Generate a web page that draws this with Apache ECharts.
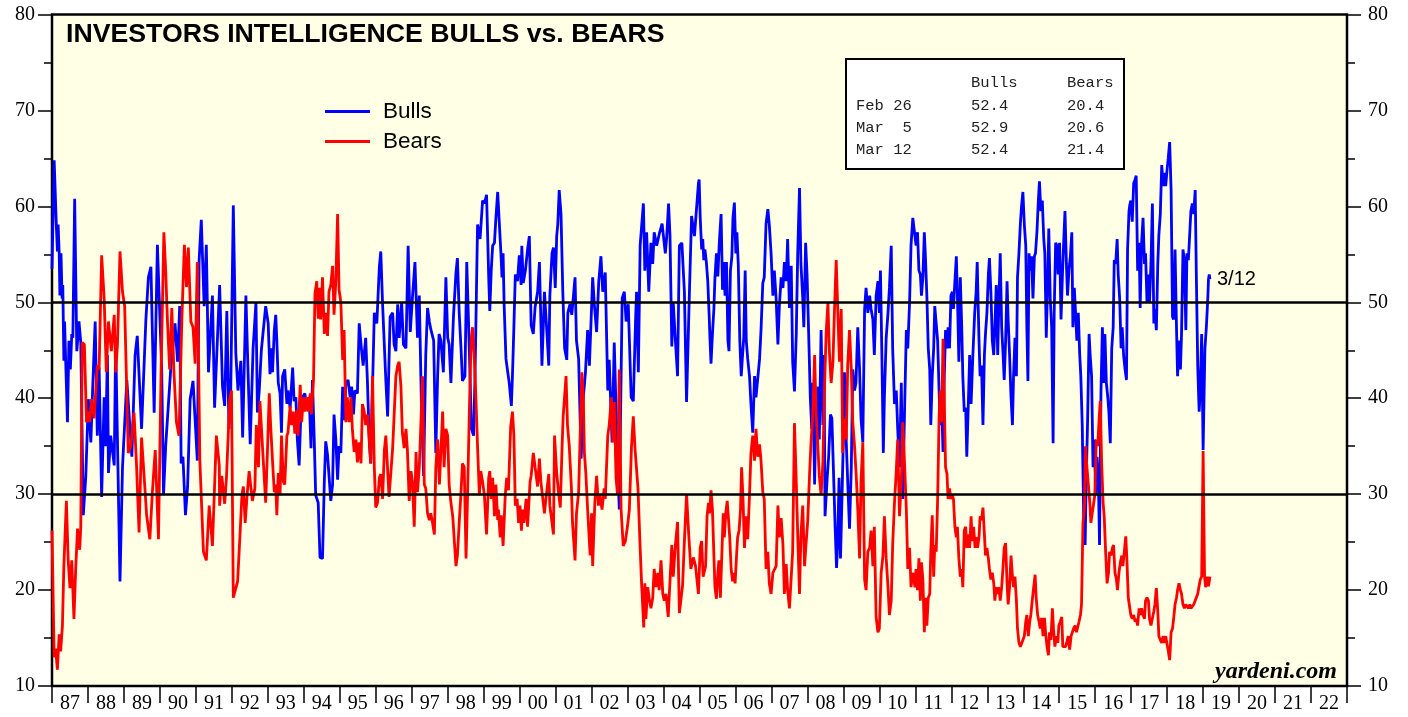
<!DOCTYPE html>
<html>
<head>
<meta charset="utf-8">
<script src="https://cdn.jsdelivr.net/npm/echarts@6/dist/echarts.min.js"></script>
<style>
html,body{margin:0;padding:0;background:#fff;}
#chart{width:1408px;height:717px;}
</style>
</head>
<body>
<div id="chart"></div>
<script>
// ---- tick labels ----
const yearLabels = ['87','88','89','90','91','92','93','94','95','96','97','98','99','00','01','02','03','04','05','06','07','08','09','10','11','12','13','14','15','16','17','18','19','20','21','22'];

// ---- table ----
const tableDates = ['Feb 26', 'Mar  5', 'Mar 12'];
const tableBulls = ['52.4', '52.9', '52.4'];
const tableBears = ['20.4', '20.6', '21.4'];

// ---- series: [decimal year, percent] ----
const bulls = [
[1987.00,53.5],[1987.06,64.8],[1987.12,58.1],[1987.15,55.3],[1987.17,58.1],[1987.20,55.1],[1987.22,50.7],[1987.25,55.1],[1987.28,50.4],[1987.30,51.8],[1987.33,43.9],[1987.35,48.0],[1987.38,43.9],[1987.43,37.5],[1987.47,46.0],[1987.51,43.0],[1987.55,46.7],[1987.58,46.3],[1987.63,60.8],[1987.69,44.9],[1987.75,48.0],[1987.80,45.8],[1987.87,27.8],[1987.94,31.9],[1988.01,39.9],[1988.08,35.4],[1988.12,39.9],[1988.20,48.0],[1988.26,36.1],[1988.31,43.2],[1988.38,29.7],[1988.45,40.1],[1988.49,35.0],[1988.54,44.5],[1988.57,32.2],[1988.63,36.1],[1988.73,33.0],[1988.77,46.0],[1988.89,20.9],[1988.96,32.8],[1989.08,41.9],[1989.22,33.9],[1989.31,44.5],[1989.37,46.5],[1989.49,36.8],[1989.61,48.2],[1989.68,52.6],[1989.75,53.7],[1989.84,38.5],[1989.93,56.0],[1990.05,43.0],[1990.10,29.9],[1990.16,35.0],[1990.30,43.0],[1990.42,47.8],[1990.49,43.8],[1990.55,49.6],[1990.59,33.2],[1990.64,33.9],[1990.71,27.8],[1990.77,30.8],[1990.84,39.9],[1990.92,41.8],[1991.04,33.5],[1991.09,54.4],[1991.15,58.6],[1991.23,49.6],[1991.29,56.0],[1991.35,42.7],[1991.46,50.7],[1991.52,39.0],[1991.66,51.8],[1991.74,41.2],[1991.80,39.2],[1991.86,49.1],[1991.92,36.8],[1991.97,41.0],[1992.04,60.1],[1992.11,44.7],[1992.17,40.8],[1992.25,43.9],[1992.30,35.9],[1992.39,50.7],[1992.45,42.7],[1992.51,35.2],[1992.59,45.2],[1992.67,50.0],[1992.71,38.5],[1992.76,40.7],[1992.82,45.0],[1992.94,49.6],
[1993.01,47.8],[1993.06,42.5],[1993.10,45.2],[1993.13,42.7],[1993.18,47.1],[1993.22,48.7],[1993.25,46.0],[1993.29,41.6],[1993.34,40.5],[1993.38,36.4],[1993.41,42.3],[1993.47,43.0],[1993.53,39.4],[1993.56,40.8],[1993.62,39.0],[1993.69,43.2],[1993.73,39.7],[1993.78,40.1],[1993.82,35.7],[1993.87,33.0],[1993.92,38.6],[1993.96,40.1],[1994.03,40.5],[1994.08,39.0],[1994.15,40.1],[1994.20,34.8],[1994.24,41.9],[1994.29,35.7],[1994.33,29.9],[1994.40,29.1],[1994.45,23.4],[1994.52,23.3],[1994.57,31.3],[1994.61,35.5],[1994.66,34.1],[1994.75,29.3],[1994.80,31.0],[1994.84,38.3],[1994.89,35.7],[1994.94,31.5],[1994.98,35.0],[1995.03,34.3],[1995.08,41.2],[1995.12,37.7],[1995.17,41.6],[1995.23,41.9],[1995.29,40.1],[1995.33,41.2],[1995.38,38.3],[1995.42,40.8],[1995.49,40.5],[1995.54,47.8],[1995.60,45.2],[1995.65,43.4],[1995.72,46.3],[1995.77,41.6],[1995.82,35.5],[1995.86,33.2],[1995.96,48.9],[1996.03,47.8],[1996.10,53.7],[1996.14,55.3],[1996.19,49.8],[1996.28,41.9],[1996.33,38.1],[1996.40,48.5],[1996.47,48.9],[1996.51,45.6],[1996.56,44.9],[1996.61,49.8],[1996.65,46.3],[1996.72,50.0],[1996.77,45.6],[1996.84,45.2],[1996.90,55.9],[1996.96,46.9],[1997.02,50.5],[1997.09,54.2],[1997.16,46.3],[1997.21,50.7],[1997.27,39.2],[1997.33,31.9],[1997.39,44.5],[1997.44,49.4],[1997.49,48.0],[1997.53,47.2],[1997.61,46.0],[1997.67,34.3],[1997.72,42.3],[1997.76,46.7],[1997.81,46.0],[1997.88,42.7],[1997.95,52.6],[1998.00,46.3],[1998.04,45.6],[1998.09,41.6],[1998.16,48.5],[1998.23,53.1],[1998.27,54.6],[1998.32,48.9],[1998.37,45.2],[1998.41,41.8],[1998.48,42.3],[1998.53,54.2],[1998.60,45.2],[1998.66,36.8],[1998.72,36.1],[1998.76,42.3],[1998.83,58.1],[1998.90,56.6],[1998.97,60.6],
[1999.02,60.3],[1999.08,61.2],[1999.11,57.0],[1999.14,52.6],[1999.17,49.1],[1999.21,53.3],[1999.25,55.9],[1999.30,56.2],[1999.34,58.8],[1999.39,61.5],[1999.43,58.6],[1999.48,55.1],[1999.51,52.6],[1999.54,55.1],[1999.57,49.6],[1999.62,44.1],[1999.67,42.7],[1999.71,41.6],[1999.77,39.2],[1999.80,42.3],[1999.84,47.4],[1999.88,52.9],[1999.94,52.2],[1999.99,54.9],[2000.04,51.8],[2000.06,55.9],[2000.10,52.0],[2000.16,53.3],[2000.22,55.5],[2000.27,56.9],[2000.32,47.6],[2000.38,46.7],[2000.43,49.5],[2000.50,51.1],[2000.55,54.2],[2000.62,43.4],[2000.69,51.1],[2000.76,46.7],[2000.81,43.4],[2000.84,50.7],[2000.90,55.1],[2000.94,55.7],[2000.99,51.5],[2001.03,56.9],[2001.06,58.1],[2001.10,61.7],[2001.15,59.2],[2001.20,51.1],[2001.25,45.2],[2001.31,44.0],[2001.34,48.9],[2001.40,49.8],[2001.45,48.7],[2001.54,52.6],[2001.58,46.0],[2001.64,44.1],[2001.71,33.7],[2001.77,40.1],[2001.83,42.7],[2001.89,47.1],[2001.94,43.4],[2002.03,52.6],[2002.08,49.6],[2002.14,46.9],[2002.20,52.2],[2002.26,54.8],[2002.31,51.1],[2002.38,53.1],[2002.45,40.8],[2002.49,44.0],[2002.57,35.4],[2002.63,45.8],[2002.70,36.1],[2002.77,28.4],[2002.85,50.4],[2002.91,51.1],[2002.96,48.0],[2003.02,49.8],[2003.10,40.1],[2003.16,39.7],[2003.22,47.8],[2003.25,51.1],[2003.30,42.7],[2003.35,55.9],[2003.44,60.3],[2003.48,53.3],[2003.53,57.3],[2003.59,51.1],[2003.65,56.2],[2003.70,54.0],[2003.74,57.3],[2003.81,55.9],[2003.88,57.1],[2003.96,58.2],[2004.05,55.1],[2004.09,56.9],[2004.14,60.3],[2004.18,56.9],[2004.23,45.4],[2004.27,50.0],[2004.33,46.0],[2004.39,42.3],[2004.44,55.9],[2004.51,56.2],[2004.58,51.1],[2004.64,39.6],[2004.72,51.1],[2004.78,59.0],[2004.86,56.9],[2004.97,62.4],
[2004.99,62.8],[2005.02,58.8],[2005.06,55.5],[2005.09,56.6],[2005.12,54.4],[2005.15,55.5],[2005.19,54.2],[2005.23,52.2],[2005.27,48.5],[2005.29,46.3],[2005.32,43.6],[2005.36,46.7],[2005.40,49.3],[2005.43,52.6],[2005.47,55.1],[2005.51,52.7],[2005.55,56.2],[2005.60,59.2],[2005.64,51.3],[2005.67,54.2],[2005.71,50.7],[2005.75,54.2],[2005.79,46.0],[2005.82,44.9],[2005.86,53.3],[2005.90,54.8],[2005.93,58.8],[2005.97,60.4],[2006.01,55.1],[2006.04,57.3],[2006.08,53.7],[2006.12,46.0],[2006.16,42.3],[2006.19,44.1],[2006.23,46.3],[2006.27,53.3],[2006.30,46.0],[2006.34,44.1],[2006.39,42.3],[2006.43,39.4],[2006.48,36.4],[2006.53,42.3],[2006.57,40.1],[2006.62,39.9],[2006.67,44.1],[2006.71,47.1],[2006.76,52.0],[2006.80,52.6],[2006.85,58.2],[2006.90,59.7],[2006.94,58.1],[2006.99,55.1],[2007.04,50.7],[2007.08,53.3],[2007.13,50.4],[2007.18,45.6],[2007.22,49.6],[2007.27,52.6],[2007.32,51.5],[2007.36,54.2],[2007.41,52.2],[2007.45,56.6],[2007.50,49.4],[2007.55,53.8],[2007.59,43.8],[2007.64,40.7],[2007.69,46.7],[2007.73,55.1],[2007.78,61.9],[2007.82,54.0],[2007.87,50.4],[2007.90,47.4],[2007.95,56.2],[2007.99,52.9],[2008.04,46.0],[2008.08,40.1],[2008.12,36.8],[2008.15,41.6],[2008.20,31.0],[2008.24,39.4],[2008.29,41.2],[2008.33,35.7],[2008.38,47.1],[2008.43,37.2],[2008.46,44.5],[2008.49,27.7],[2008.55,31.7],[2008.59,33.9],[2008.64,38.3],[2008.68,37.9],[2008.73,31.7],[2008.77,26.6],[2008.81,22.3],[2008.84,24.7],[2008.88,31.7],[2008.92,23.3],[2008.96,29.5],[2008.99,34.3],[2009.03,42.7],[2009.08,35.4],[2009.12,31.3],[2009.17,26.4],[2009.22,32.8],[2009.26,43.0],[2009.31,40.8],[2009.35,41.6],[2009.40,47.4],[2009.45,43.0],[2009.49,37.9],[2009.54,35.4],[2009.59,49.3],[2009.63,51.5],[2009.68,48.9],[2009.73,50.7],[2009.77,49.3],[2009.82,48.2],[2009.86,44.5],[2009.91,50.7],[2009.96,52.2],[2010.00,48.9],[2010.03,53.3],[2010.07,44.5],[2010.11,34.3],[2010.14,40.1],[2010.19,46.3],[2010.24,48.9],[2010.28,51.5],[2010.33,55.9],[2010.37,45.2],[2010.42,39.4],[2010.47,40.8],[2010.51,36.8],[2010.56,32.8],[2010.61,41.6],[2010.65,29.5],[2010.70,38.6],[2010.75,47.1],[2010.79,45.2],[2010.84,50.0],[2010.88,55.9],[2010.93,58.8],
[2010.98,58.8],[2011.02,55.9],[2011.06,57.3],[2011.10,53.3],[2011.14,52.9],[2011.17,50.7],[2011.21,52.6],[2011.25,57.3],[2011.28,54.8],[2011.32,50.7],[2011.36,45.2],[2011.40,43.0],[2011.43,37.2],[2011.47,42.3],[2011.51,45.2],[2011.54,49.6],[2011.58,49.4],[2011.62,46.0],[2011.66,40.8],[2011.69,37.2],[2011.73,39.7],[2011.77,34.4],[2011.80,41.6],[2011.84,47.1],[2011.88,45.2],[2011.91,47.4],[2011.95,45.2],[2011.99,50.7],[2012.03,51.1],[2012.06,49.3],[2012.10,52.2],[2012.14,54.8],[2012.17,50.7],[2012.21,43.8],[2012.25,52.6],[2012.29,47.4],[2012.32,42.3],[2012.36,38.6],[2012.40,39.0],[2012.43,33.9],[2012.47,39.0],[2012.51,44.5],[2012.55,39.4],[2012.60,44.5],[2012.65,48.9],[2012.69,51.1],[2012.72,54.2],[2012.77,46.0],[2012.80,42.3],[2012.84,43.4],[2012.88,37.2],[2012.92,44.5],[2012.95,46.7],[2012.99,48.9],[2013.03,52.9],[2013.06,54.6],[2013.10,51.1],[2013.14,46.0],[2013.18,44.5],[2013.21,47.4],[2013.25,51.8],[2013.29,44.5],[2013.32,49.6],[2013.36,55.1],[2013.40,47.4],[2013.44,44.5],[2013.47,41.9],[2013.51,46.0],[2013.55,52.2],[2013.58,48.2],[2013.62,44.5],[2013.66,40.1],[2013.70,37.2],[2013.73,42.3],[2013.77,46.3],[2013.81,42.3],[2013.84,52.6],[2013.88,55.1],[2013.92,58.2],[2013.95,59.9],[2013.99,61.5],[2014.03,58.1],[2014.07,55.9],[2014.10,47.4],[2014.13,41.8],[2014.16,55.1],[2014.20,53.3],[2014.23,54.8],[2014.27,50.4],[2014.31,54.8],[2014.34,55.1],[2014.38,57.3],[2014.42,60.6],[2014.45,62.6],[2014.49,59.5],[2014.53,60.6],[2014.57,56.6],[2014.60,55.1],[2014.64,46.3],[2014.68,52.2],[2014.71,57.7],[2014.75,50.4],[2014.79,47.4],[2014.83,35.3],[2014.86,48.9],[2014.90,56.2],[2014.94,55.9],[2014.97,52.9],[2015.01,56.2],[2015.05,48.2],[2015.09,52.9],[2015.12,55.9],[2015.16,59.5],[2015.20,54.0],[2015.23,50.7],[2015.27,53.3],[2015.31,54.8],[2015.35,57.3],[2015.38,47.4],[2015.42,51.5],[2015.46,48.5],[2015.49,46.0],[2015.53,48.9],[2015.57,44.5],[2015.60,42.3],[2015.64,37.2],[2015.68,27.7],[2015.72,24.7],[2015.75,31.3],[2015.79,37.9],[2015.83,46.7],[2015.86,44.5],[2015.90,42.3],[2015.94,32.8],[2015.98,35.7],[2016.01,29.9],[2016.05,33.9],[2016.09,31.3],[2016.12,24.7],[2016.16,40.5],[2016.20,47.4],[2016.24,41.6],[2016.27,46.7],[2016.31,41.6],[2016.35,40.1],[2016.38,38.6],[2016.42,35.3],[2016.46,45.2],[2016.50,47.4],[2016.53,54.4],[2016.57,54.0],[2016.61,56.6],[2016.64,52.9],[2016.68,50.4],[2016.72,45.2],[2016.75,47.4],[2016.79,44.5],[2016.83,43.0],[2016.87,41.9],[2016.90,55.5],[2016.94,59.5],
[2016.96,60.1],[2016.99,60.6],[2017.03,58.4],[2017.07,62.4],[2017.11,62.8],[2017.14,63.2],[2017.18,53.3],[2017.22,56.2],[2017.25,49.4],[2017.29,56.2],[2017.33,58.8],[2017.37,54.0],[2017.40,55.1],[2017.44,50.0],[2017.48,52.9],[2017.51,50.0],[2017.55,54.0],[2017.59,60.3],[2017.63,47.8],[2017.66,49.3],[2017.70,47.1],[2017.74,54.0],[2017.77,57.0],[2017.81,59.2],[2017.85,64.3],[2017.89,62.1],[2017.92,63.5],[2017.96,62.1],[2018.00,63.9],[2018.03,65.0],[2018.07,66.7],[2018.11,61.7],[2018.15,48.5],[2018.18,48.2],[2018.22,55.5],[2018.26,47.4],[2018.29,42.3],[2018.33,46.0],[2018.37,43.0],[2018.40,46.7],[2018.44,55.5],[2018.48,54.4],[2018.52,47.1],[2018.55,55.1],[2018.59,54.4],[2018.63,57.3],[2018.66,59.5],[2018.70,60.3],[2018.74,59.2],[2018.78,61.7],[2018.81,53.3],[2018.85,43.4],[2018.89,38.6],[2018.92,40.8],[2018.96,46.7],[2019.00,34.6],[2019.05,45.2],[2019.09,47.4],[2019.13,50.4],[2019.15,52.4],[2019.17,52.9],[2019.19,52.4]
];

const bears = [
[1987.00,26.2],[1987.06,13.0],[1987.10,13.9],[1987.15,11.7],[1987.20,15.4],[1987.24,13.6],[1987.29,16.3],[1987.33,22.5],[1987.36,22.7],[1987.40,29.3],[1987.45,23.1],[1987.50,20.2],[1987.55,23.1],[1987.61,17.0],[1987.66,22.3],[1987.71,26.4],[1987.77,24.2],[1987.80,26.6],[1987.84,45.8],[1987.90,45.6],[1987.96,37.5],[1988.01,38.6],[1988.05,37.5],[1988.10,39.9],[1988.17,37.9],[1988.26,43.4],[1988.31,43.0],[1988.38,54.9],[1988.45,50.4],[1988.51,42.7],[1988.57,48.0],[1988.65,44.9],[1988.73,48.7],[1988.77,42.7],[1988.82,45.6],[1988.89,55.3],[1988.96,51.1],[1989.02,49.6],[1989.12,34.3],[1989.19,35.0],[1989.28,38.5],[1989.35,33.0],[1989.42,26.0],[1989.49,35.9],[1989.59,30.2],[1989.63,27.8],[1989.72,25.3],[1989.79,30.2],[1989.87,34.6],[1989.96,25.3],[1990.03,42.3],[1990.11,57.3],[1990.16,53.3],[1990.21,48.0],[1990.27,43.0],[1990.33,49.4],[1990.39,42.7],[1990.46,37.5],[1990.53,36.1],[1990.61,48.2],[1990.68,56.0],[1990.74,51.6],[1990.79,55.7],[1990.86,48.0],[1990.92,47.4],[1990.98,43.6],[1991.04,54.2],[1991.11,33.5],[1991.21,24.0],[1991.29,23.1],[1991.37,28.8],[1991.46,24.6],[1991.57,36.1],[1991.65,33.0],[1991.66,28.8],[1991.72,31.9],[1991.80,29.0],[1991.85,31.7],[1991.94,39.9],[1991.99,40.8],[1992.04,19.2],[1992.16,20.9],[1992.22,25.3],[1992.28,29.9],[1992.32,30.8],[1992.37,27.0],[1992.43,30.2],[1992.48,32.4],[1992.57,29.3],[1992.64,30.6],[1992.68,37.2],[1992.74,32.8],[1992.78,39.7],[1992.94,29.1],[1992.99,34.6],
[1993.04,40.5],[1993.08,37.0],[1993.13,33.5],[1993.18,30.2],[1993.22,31.0],[1993.25,27.8],[1993.29,32.2],[1993.34,29.9],[1993.38,36.1],[1993.43,31.3],[1993.47,31.0],[1993.53,36.1],[1993.56,36.4],[1993.62,39.2],[1993.66,37.2],[1993.71,38.6],[1993.75,36.3],[1993.81,38.8],[1993.84,36.1],[1993.90,41.4],[1993.94,37.5],[1993.99,40.1],[1994.03,38.6],[1994.08,40.1],[1994.12,38.6],[1994.18,40.5],[1994.21,38.3],[1994.27,41.9],[1994.31,50.9],[1994.36,52.2],[1994.40,48.3],[1994.43,51.5],[1994.47,48.2],[1994.52,52.6],[1994.57,46.7],[1994.61,48.9],[1994.66,46.5],[1994.70,51.1],[1994.75,51.8],[1994.80,53.8],[1994.84,48.7],[1994.89,52.2],[1994.94,59.2],[1994.98,51.3],[1995.03,50.0],[1995.08,44.0],[1995.12,47.1],[1995.17,37.5],[1995.21,40.1],[1995.26,37.5],[1995.31,40.1],[1995.35,36.8],[1995.40,34.4],[1995.45,35.7],[1995.49,33.3],[1995.54,35.4],[1995.59,33.2],[1995.63,39.4],[1995.68,38.6],[1995.72,37.2],[1995.77,38.3],[1995.82,35.7],[1995.86,33.2],[1995.91,42.3],[1995.96,32.8],[1996.00,28.6],[1996.05,29.1],[1996.10,31.7],[1996.14,32.1],[1996.19,29.5],[1996.24,34.6],[1996.28,36.1],[1996.33,36.1],[1996.37,29.7],[1996.42,29.5],[1996.47,34.8],[1996.51,35.0],[1996.56,42.3],[1996.61,43.4],[1996.65,43.8],[1996.70,41.2],[1996.74,36.4],[1996.79,34.8],[1996.84,36.8],[1996.88,34.6],[1996.93,29.3],[1996.98,32.4],[1997.02,31.3],[1997.07,26.6],[1997.12,34.4],[1997.16,30.2],[1997.21,32.8],[1997.25,36.8],[1997.30,42.3],[1997.35,31.0],[1997.39,30.6],[1997.44,28.0],[1997.49,27.3],[1997.53,28.0],[1997.58,27.0],[1997.63,25.8],[1997.67,32.8],[1997.72,35.7],[1997.77,31.0],[1997.81,34.4],[1997.86,38.6],[1997.90,32.8],[1997.95,36.8],[1998.00,36.1],[1998.04,31.0],[1998.09,29.1],[1998.14,27.7],[1998.18,27.5],[1998.23,22.5],[1998.27,23.6],[1998.32,27.0],[1998.37,30.2],[1998.41,33.2],[1998.46,32.8],[1998.51,23.3],[1998.55,29.5],[1998.60,38.3],[1998.65,46.0],[1998.69,47.4],[1998.74,44.1],[1998.78,40.5],[1998.83,35.0],[1998.88,29.9],[1998.92,32.4],[1998.97,31.3],
[1999.02,29.9],[1999.08,25.8],[1999.14,31.7],[1999.17,32.4],[1999.21,29.5],[1999.25,31.7],[1999.30,27.7],[1999.34,31.0],[1999.39,27.3],[1999.41,28.4],[1999.46,25.5],[1999.49,27.8],[1999.54,24.6],[1999.60,29.9],[1999.64,31.7],[1999.69,30.4],[1999.75,37.0],[1999.80,38.6],[1999.84,36.1],[1999.88,28.8],[1999.93,29.5],[1999.97,27.0],[2000.01,28.8],[2000.05,26.2],[2000.08,28.4],[2000.12,27.0],[2000.18,29.5],[2000.22,26.6],[2000.29,31.3],[2000.32,31.9],[2000.38,34.3],[2000.43,32.8],[2000.50,30.8],[2000.55,33.7],[2000.59,31.3],[2000.69,28.0],[2000.73,29.5],[2000.81,32.1],[2000.84,28.8],[2000.94,25.8],[2000.97,36.1],[2001.03,32.2],[2001.08,30.2],[2001.13,28.6],[2001.18,35.0],[2001.21,38.1],[2001.29,42.3],[2001.33,37.2],[2001.38,35.0],[2001.44,30.6],[2001.47,27.0],[2001.54,23.1],[2001.58,28.0],[2001.64,30.2],[2001.73,42.7],[2001.77,40.1],[2001.80,34.3],[2001.84,32.2],[2001.89,28.4],[2001.96,23.6],[2002.00,28.0],[2002.03,22.5],[2002.09,29.1],[2002.14,31.9],[2002.19,28.8],[2002.23,30.0],[2002.29,28.4],[2002.35,30.6],[2002.38,29.5],[2002.45,36.1],[2002.49,37.2],[2002.55,40.1],[2002.59,35.4],[2002.63,39.6],[2002.68,31.7],[2002.72,30.0],[2002.77,43.0],[2002.82,28.4],[2002.88,24.6],[2002.94,25.1],[2003.00,26.7],[2003.05,28.4],[2003.11,35.0],[2003.16,38.1],[2003.21,34.6],[2003.25,34.8],[2003.29,30.6],[2003.35,24.4],[2003.39,20.7],[2003.45,16.1],[2003.48,20.7],[2003.51,17.0],[2003.56,20.3],[2003.61,18.9],[2003.65,18.1],[2003.70,19.2],[2003.74,22.2],[2003.79,20.3],[2003.84,21.8],[2003.88,20.0],[2003.93,23.1],[2003.98,19.6],[2004.02,18.9],[2004.07,19.6],[2004.13,17.2],[2004.23,24.7],[2004.27,21.4],[2004.33,24.7],[2004.39,27.1],[2004.44,17.6],[2004.49,17.4],[2004.53,20.5],[2004.58,25.1],[2004.64,30.0],[2004.70,25.8],[2004.76,22.2],[2004.83,23.4],[2004.89,22.5],[2004.97,19.6],
[2005.02,24.4],[2005.06,25.1],[2005.10,21.4],[2005.14,21.3],[2005.17,22.5],[2005.21,27.7],[2005.25,29.1],[2005.28,28.0],[2005.32,30.4],[2005.36,28.4],[2005.40,23.6],[2005.43,20.3],[2005.47,19.1],[2005.51,21.8],[2005.54,23.1],[2005.58,19.2],[2005.62,23.6],[2005.66,28.0],[2005.69,25.5],[2005.73,28.0],[2005.77,29.3],[2005.80,27.7],[2005.84,25.5],[2005.88,22.2],[2005.92,20.9],[2005.95,21.8],[2005.99,20.7],[2006.03,23.6],[2006.06,25.5],[2006.10,26.2],[2006.14,28.4],[2006.17,32.8],[2006.21,29.5],[2006.25,24.4],[2006.30,27.7],[2006.34,25.3],[2006.39,29.9],[2006.43,34.3],[2006.48,36.1],[2006.53,33.5],[2006.57,36.8],[2006.62,33.9],[2006.67,35.2],[2006.71,33.5],[2006.76,30.2],[2006.80,29.5],[2006.85,22.2],[2006.90,24.0],[2006.94,20.7],[2006.99,19.6],[2007.04,21.8],[2007.08,21.8],[2007.13,22.5],[2007.18,28.8],[2007.22,25.5],[2007.27,27.5],[2007.32,24.7],[2007.36,19.6],[2007.41,22.7],[2007.45,20.0],[2007.50,18.1],[2007.55,17.9],[2007.59,24.0],[2007.64,37.4],[2007.69,31.3],[2007.73,25.8],[2007.78,19.6],[2007.82,25.8],[2007.87,28.8],[2007.92,22.5],[2007.96,24.7],[2008.01,27.3],[2008.06,32.1],[2008.10,35.4],[2008.15,38.3],[2008.20,44.5],[2008.24,38.6],[2008.29,35.0],[2008.33,31.9],[2008.38,29.9],[2008.43,33.2],[2008.47,40.5],[2008.52,46.7],[2008.57,50.0],[2008.61,44.9],[2008.66,41.6],[2008.71,43.8],[2008.75,48.9],[2008.80,54.4],[2008.84,49.6],[2008.89,43.8],[2008.94,49.3],[2008.98,34.3],[2009.03,37.9],[2009.08,35.7],[2009.12,43.4],[2009.17,47.1],[2009.22,43.0],[2009.26,37.5],[2009.31,35.0],[2009.36,31.7],[2009.40,28.4],[2009.45,23.3],[2009.49,31.3],[2009.54,35.4],[2009.59,21.1],[2009.63,20.0],[2009.68,24.0],[2009.73,24.4],[2009.77,26.2],[2009.82,22.5],[2009.86,26.6],[2009.91,17.2],[2009.96,15.6],[2010.00,16.0],[2010.05,21.8],[2010.10,23.6],[2010.14,27.7],[2010.19,23.3],[2010.24,20.3],[2010.28,17.4],[2010.33,18.9],[2010.37,24.7],[2010.42,29.1],[2010.47,32.4],[2010.51,35.7],[2010.56,27.7],[2010.61,31.3],[2010.65,37.5],[2010.70,33.2],[2010.75,28.4],[2010.79,22.2],[2010.84,24.4],[2010.88,20.3],[2010.93,21.8],
[2010.99,20.3],[2011.02,22.2],[2011.06,20.0],[2011.10,23.3],[2011.14,18.9],[2011.17,22.9],[2011.21,21.1],[2011.25,15.6],[2011.28,19.2],[2011.32,16.3],[2011.36,19.2],[2011.40,19.6],[2011.43,24.0],[2011.47,27.8],[2011.51,21.4],[2011.54,24.7],[2011.58,24.0],[2011.62,29.5],[2011.66,37.9],[2011.69,40.8],[2011.73,37.5],[2011.77,46.2],[2011.80,40.8],[2011.84,32.8],[2011.88,32.1],[2011.91,29.5],[2011.95,30.6],[2011.99,29.5],[2012.03,29.9],[2012.06,29.5],[2012.10,26.6],[2012.14,25.5],[2012.17,26.6],[2012.21,23.3],[2012.25,21.4],[2012.29,22.2],[2012.32,20.3],[2012.36,26.2],[2012.40,26.6],[2012.43,24.4],[2012.47,25.8],[2012.51,24.4],[2012.55,27.7],[2012.58,25.1],[2012.62,26.6],[2012.66,24.4],[2012.69,25.5],[2012.73,24.4],[2012.77,25.5],[2012.80,27.7],[2012.84,27.3],[2012.88,28.6],[2012.92,25.8],[2012.95,23.6],[2012.99,24.4],[2013.03,23.3],[2013.06,22.2],[2013.10,21.1],[2013.14,21.8],[2013.18,20.7],[2013.21,18.9],[2013.25,20.3],[2013.29,19.6],[2013.32,20.3],[2013.36,18.9],[2013.40,20.3],[2013.44,22.5],[2013.47,24.4],[2013.51,24.9],[2013.55,20.7],[2013.58,18.5],[2013.62,20.3],[2013.66,23.6],[2013.70,21.4],[2013.73,20.3],[2013.77,21.4],[2013.81,18.9],[2013.84,16.0],[2013.88,14.5],[2013.92,14.1],[2013.95,14.1],[2013.99,14.8],[2014.03,15.2],[2014.07,16.7],[2014.10,17.4],[2014.14,15.2],[2014.18,16.7],[2014.21,17.4],[2014.25,18.9],[2014.29,20.3],[2014.33,21.6],[2014.36,19.2],[2014.40,17.4],[2014.44,16.7],[2014.47,16.0],[2014.51,17.1],[2014.55,15.2],[2014.59,17.1],[2014.62,15.6],[2014.66,14.1],[2014.70,13.2],[2014.73,15.6],[2014.77,14.8],[2014.81,18.1],[2014.84,16.0],[2014.88,14.1],[2014.92,15.2],[2014.96,14.5],[2014.99,16.3],[2015.03,16.7],[2015.07,17.2],[2015.10,14.1],[2015.14,14.1],[2015.18,14.1],[2015.22,14.1],[2015.25,15.2],[2015.29,13.8],[2015.33,15.2],[2015.36,15.2],[2015.40,16.0],[2015.44,16.3],[2015.48,15.6],[2015.51,15.6],[2015.55,16.7],[2015.59,17.4],[2015.62,18.5],[2015.66,27.0],[2015.70,28.4],[2015.73,35.0],[2015.77,32.8],[2015.81,31.0],[2015.85,29.1],[2015.88,27.0],[2015.92,27.0],[2015.96,29.1],[2015.99,29.9],[2016.03,35.7],[2016.07,35.0],[2016.11,37.9],[2016.14,39.7],[2016.18,33.2],[2016.22,29.1],[2016.25,27.7],[2016.29,24.0],[2016.33,20.7],[2016.37,21.8],[2016.40,24.0],[2016.44,23.6],[2016.48,24.4],[2016.51,24.7],[2016.55,21.8],[2016.59,21.1],[2016.62,20.0],[2016.66,21.8],[2016.70,22.9],[2016.74,23.6],[2016.77,22.5],[2016.81,24.0],[2016.85,25.6],[2016.88,23.3],[2016.92,19.2],
[2016.96,19.2],[2016.99,17.4],[2017.03,17.0],[2017.07,17.4],[2017.11,16.7],[2017.14,17.0],[2017.18,16.3],[2017.22,18.1],[2017.25,17.4],[2017.29,18.1],[2017.33,17.4],[2017.37,17.0],[2017.40,18.9],[2017.44,19.2],[2017.48,18.9],[2017.51,17.0],[2017.55,16.3],[2017.59,16.3],[2017.63,17.8],[2017.66,18.5],[2017.70,20.2],[2017.74,17.8],[2017.77,15.2],[2017.81,14.8],[2017.85,14.5],[2017.89,15.2],[2017.92,14.5],[2017.96,15.2],[2018.00,15.2],[2018.03,13.7],[2018.07,12.7],[2018.11,15.6],[2018.15,16.0],[2018.18,17.0],[2018.22,18.5],[2018.26,19.2],[2018.29,20.0],[2018.33,20.7],[2018.37,20.0],[2018.40,19.6],[2018.44,18.5],[2018.48,18.1],[2018.52,18.5],[2018.55,18.5],[2018.59,18.1],[2018.63,18.5],[2018.66,18.1],[2018.70,18.1],[2018.74,18.5],[2018.78,18.5],[2018.81,19.2],[2018.85,19.6],[2018.89,19.6],[2018.92,21.1],[2018.96,21.4],[2019.00,34.5],[2019.04,21.4],[2019.07,20.3],[2019.11,21.4],[2019.15,20.4],[2019.17,20.6],[2019.19,21.4]
];

const refLines = [50, 30];

const chart = echarts.init(document.getElementById('chart'), null, {renderer: 'canvas'});
const serif = '"Liberation Serif", "Times New Roman", serif';
const sans = '"Liberation Sans", Arial, sans-serif';
const mono = '"Liberation Mono", "Courier New", monospace';

const tableChildren = [
  {type: 'rect', shape: {x: 846, y: 59, width: 278, height: 110}, style: {fill: '#ffffff', stroke: '#000', lineWidth: 2}},
  {type: 'text', style: {x: 971, y: 83, text: 'Bulls', font: '15.5px ' + mono, fill: '#222', textVerticalAlign: 'middle'}},
  {type: 'text', style: {x: 1067, y: 83, text: 'Bears', font: '15.5px ' + mono, fill: '#222', textVerticalAlign: 'middle'}}
];
tableDates.forEach((d, i) => {
  const y = 106 + i * 22;
  tableChildren.push({type: 'text', style: {x: 856, y: y, text: d, font: '15.5px ' + mono, fill: '#222', textVerticalAlign: 'middle'}});
  tableChildren.push({type: 'text', style: {x: 971, y: y, text: tableBulls[i], font: '15.5px ' + mono, fill: '#222', textVerticalAlign: 'middle'}});
  tableChildren.push({type: 'text', style: {x: 1067, y: y, text: tableBears[i], font: '15.5px ' + mono, fill: '#222', textVerticalAlign: 'middle'}});
});

const yAxisCommon = {
  type: 'value', min: 10, max: 80, interval: 10,
  axisLine: {show: false},
  axisTick: {show: true, length: 14, lineStyle: {color: '#000', width: 1.5}},
  minorTick: {show: true, splitNumber: 2, length: 8, lineStyle: {color: '#000', width: 1.5}},
  splitLine: {show: false},
  minorSplitLine: {show: false}
};

chart.setOption({
  animation: false,
  backgroundColor: '#ffffff',
  title: {
    text: 'INVESTORS INTELLIGENCE BULLS vs. BEARS',
    left: 66, top: 21, padding: 0,
    textStyle: {fontFamily: sans, fontWeight: 'bold', fontSize: 26.7, color: '#000'}
  },
  legend: {
    data: ['Bulls', 'Bears'],
    orient: 'vertical', left: 325, top: 100, padding: 0,
    itemWidth: 45, itemHeight: 3, itemGap: 7, icon: 'rect',
    textStyle: {fontFamily: sans, fontSize: 22.5, color: '#000', padding: [0, 0, 0, 8]}
  },
  grid: {
    left: 52, right: 61, top: 14.5, bottom: 31,
    show: true, backgroundColor: '#ffffe6', borderColor: '#000', borderWidth: 2.5
  },
  xAxis: [
    {type: 'value', min: 1987, max: 2023, show: false, position: 'top'},
    {
      type: 'category', data: yearLabels, boundaryGap: true, position: 'bottom',
      axisLine: {show: false},
      axisTick: {show: true, interval: 0, length: 17, lineStyle: {color: '#000', width: 1.5}},
      axisLabel: {interval: 0, color: '#000', fontFamily: serif, fontSize: 20, margin: 8},
      splitLine: {show: false}
    }
  ],
  yAxis: [
    Object.assign({}, yAxisCommon, {position: 'left', axisLabel: {color: '#000', fontFamily: serif, fontSize: 20, margin: 17}}),
    Object.assign({}, yAxisCommon, {position: 'right', axisLabel: {color: '#000', fontFamily: serif, fontSize: 20, margin: 21}})
  ],
  series: [
    {
      name: 'Bulls', type: 'line', xAxisIndex: 0, yAxisIndex: 0, data: bulls,
      showSymbol: false, symbol: 'none', color: '#0000ff',
      lineStyle: {color: '#0000ff', width: 2.8}, z: 2,
      endLabel: {show: true, formatter: '3/12', distance: 7, color: '#000', fontFamily: sans, fontSize: 20}
    },
    {
      name: 'Bears', type: 'line', xAxisIndex: 0, yAxisIndex: 0, data: bears,
      showSymbol: false, symbol: 'none', color: '#ff0000',
      lineStyle: {color: '#ff0000', width: 2.8}, z: 3
    },
    {
      type: 'line', xAxisIndex: 0, yAxisIndex: 0, data: [], z: 4,
      markLine: {
        silent: true, symbol: 'none', label: {show: false}, animation: false,
        lineStyle: {color: '#000', width: 2.5, type: 'solid'},
        data: refLines.map(v => ({yAxis: v}))
      }
    }
  ],
  graphic: [
    {type: 'group', children: tableChildren, z: 10},
    {type: 'text', z: 10, style: {x: 1337, y: 672, text: 'yardeni.com', textAlign: 'right', textVerticalAlign: 'middle', font: 'italic bold 24px ' + serif, fill: '#000'}}
  ]
});
</script>
</body>
</html>
